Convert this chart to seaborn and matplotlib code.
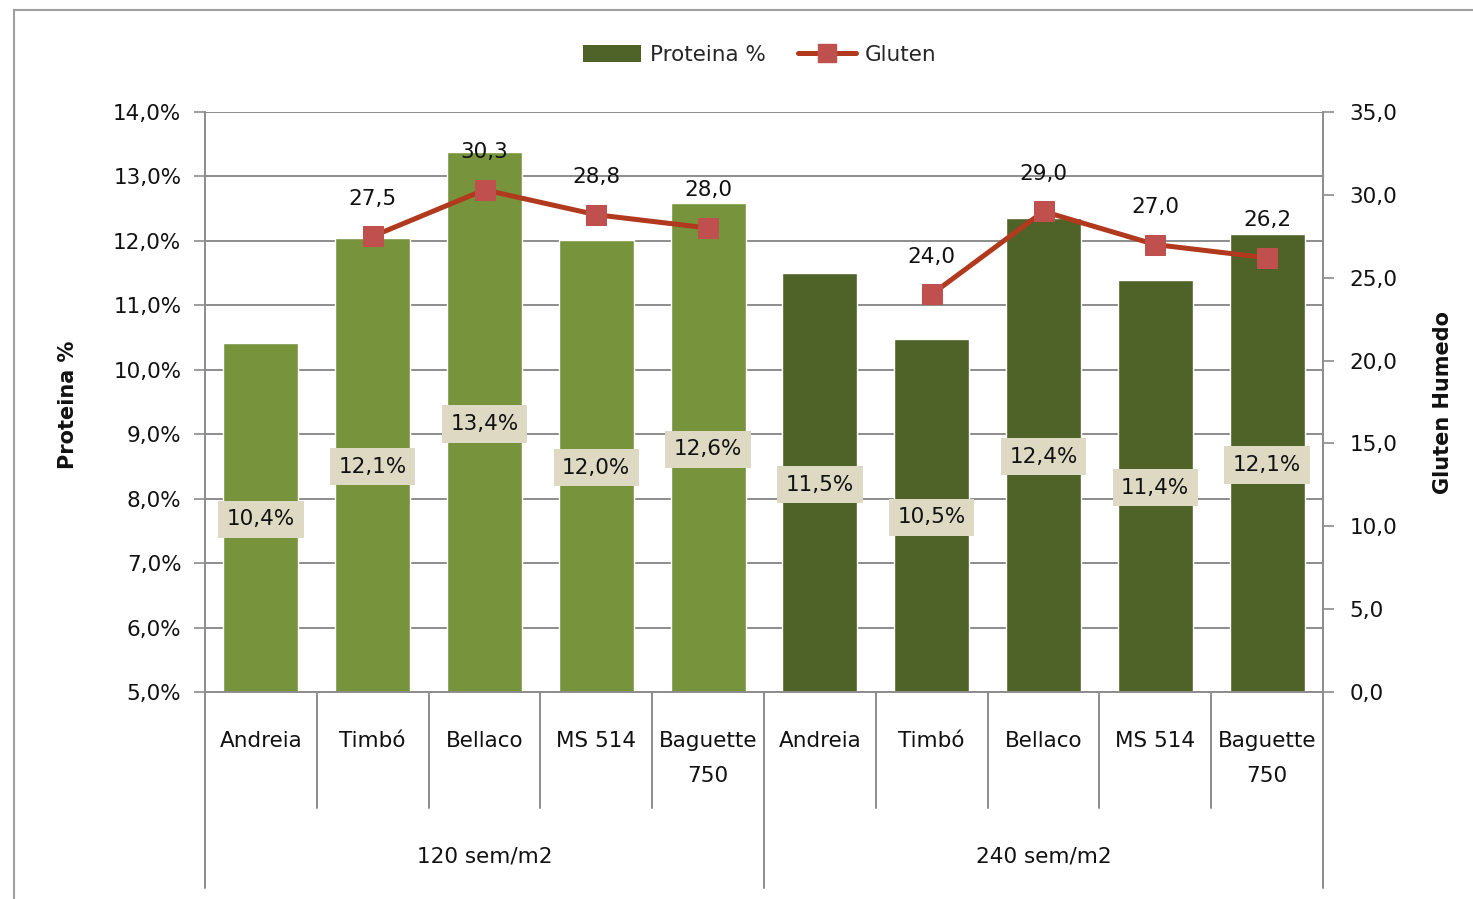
import numpy as np
import pandas as pd
import matplotlib
matplotlib.use("Agg")
import matplotlib.pyplot as plt
import matplotlib.transforms as mtransforms
from matplotlib.patches import Patch, Rectangle
from matplotlib.lines import Line2D
import seaborn as sns

# ---- data ----
varieties = ["Andreia", "Timbó", "Bellaco", "MS 514", "Baguette\n750",
             "Andreia", "Timbó", "Bellaco", "MS 514", "Baguette\n750"]
groups = ["120 sem/m2"] * 5 + ["240 sem/m2"] * 5
group_names = ["120 sem/m2", "240 sem/m2"]
proteina = [10.42, 12.05, 13.38, 12.02, 12.59, 11.5, 10.48, 12.36, 11.4, 12.11]
proteina_labels = ["10,4%", "12,1%", "13,4%", "12,0%", "12,6%",
                   "11,5%", "10,5%", "12,4%", "11,4%", "12,1%"]
gluten = [np.nan, 27.5, 30.3, 28.8, 28.0, np.nan, 24.0, 29.0, 27.0, 26.2]
gluten_labels = ["", "27,5", "30,3", "28,8", "28,0", "", "24,0", "29,0", "27,0", "26,2"]

sns.set_style("white")
plt.rcParams["font.family"] = ["DejaVu Sans"]

bar_colors = {"120 sem/m2": "#77933C", "240 sem/m2": "#4F6228"}
line_color = "#B0391E"
marker_color = "#C0504D"
grid_color = "#8C8C8C"

df = pd.DataFrame({
    "pos": [str(i) for i in range(len(varieties))],
    "idx": list(range(len(varieties))),
    "Variedad": varieties,
    "Grupo": groups,
    "Proteina": proteina,
    "Gluten": gluten,
})

fig = plt.figure(figsize=(14.73, 8.99), dpi=100)
ax = fig.add_axes([205 / 1473, 1 - 692 / 899, (1323 - 205) / 1473, (692 - 112) / 899])

# outer chart border
fig.patches.append(Rectangle((14 / 1473, -0.1), 1.2, (899 - 10) / 899 + 0.1,
                             transform=fig.transFigure, fill=False,
                             edgecolor="#A0A0A0", linewidth=1.5))

sns.barplot(data=df, x="pos", y="Proteina", hue="Grupo", palette=bar_colors,
            dodge=False, width=0.67, ax=ax, legend=False, saturation=1)
ax.set_ylim(5, 14)
ax.set_xlim(-0.5, len(varieties) - 0.5)
ax.set_yticks(np.arange(5, 14.01, 1))
ax.yaxis.set_major_formatter(matplotlib.ticker.FuncFormatter(
    lambda v, p: f"{v:.1f}%".replace(".", ",")))
ax.grid(axis="y", color=grid_color, linewidth=1.4)
ax.set_axisbelow(True)
ax.set_xticks([])
ax.set_xlabel("")
ax.set_ylabel("")
for s in ["top", "right"]:
    ax.spines[s].set_visible(False)
for s in ["left", "bottom"]:
    ax.spines[s].set_color(grid_color)
    ax.spines[s].set_linewidth(1.4)
ax.tick_params(axis="y", direction="out", length=8, width=1.2, color=grid_color,
               labelsize=15.5, pad=9, left=True, labelcolor="#111111")

# bar labels (centered, beige box)
for i, (v, lab) in enumerate(zip(proteina, proteina_labels)):
    ax.text(i, 5 + (v - 5) / 2, lab, ha="center", va="center_baseline", fontsize=15.5,
            color="#111111", zorder=5,
            bbox=dict(boxstyle="square,pad=0.4", facecolor="#DDD9C3", edgecolor="none"))

# secondary axis: gluten
ax2 = ax.twinx()
sns.lineplot(data=df, x="idx", y="Gluten", hue="Grupo",
             palette={g: line_color for g in group_names}, ax=ax2, legend=False,
             linewidth=3.6, marker="s", markersize=15, markerfacecolor=marker_color,
             markeredgecolor=marker_color, zorder=6)
ax2.set_ylim(0, 35)
ax2.set_yticks(np.arange(0, 35.01, 5))
ax2.yaxis.set_major_formatter(matplotlib.ticker.FuncFormatter(
    lambda v, p: f"{v:.1f}".replace(".", ",")))
ax2.set_ylabel("")
ax2.set_xlabel("")
ax2.set_xlim(-0.5, len(varieties) - 0.5)
for s in ["top", "left", "bottom"]:
    ax2.spines[s].set_visible(False)
ax2.spines["right"].set_color(grid_color)
ax2.spines["right"].set_linewidth(1.4)
ax2.tick_params(axis="y", direction="out", length=8, width=1.2, color=grid_color,
                labelsize=15.5, pad=11, right=True, labelcolor="#111111")
ax2.grid(False)

for i, (v, lab) in enumerate(zip(gluten, gluten_labels)):
    if lab:
        ax2.annotate(lab, (i, v), xytext=(0, 27), textcoords="offset points",
                     ha="center", va="center", fontsize=15.5, color="#111111", zorder=7)

# multi-level category axis
trans = mtransforms.blended_transform_factory(ax.transData, ax.transAxes)
h = 580.0
for b in np.arange(0.5, len(varieties) - 0.5, 1):
    if b == 4.5:
        continue
    ax.plot([b, b], [0, -116 / h], transform=trans, color=grid_color, lw=1.4,
            clip_on=False)
for b in [-0.5, 4.5, len(varieties) - 0.5]:
    ax.plot([b, b], [0, -196 / h], transform=trans, color=grid_color, lw=1.4,
            clip_on=False)
for i, lab in enumerate(varieties):
    for k, line in enumerate(lab.split("\n")):
        ax.text(i, -(49 + 35 * k) / h, line, transform=trans, ha="center",
                va="center", fontsize=15.5, color="#111111")
for gi, g in enumerate(group_names):
    ax.text(2 + gi * 5, -164 / h, g, transform=trans, ha="center", va="center",
            fontsize=15.5, color="#111111")

# axis titles
fig.text(68 / 1473, 1 - 405 / 899, "Proteina %", rotation=90, ha="center",
         va="center", fontsize=15, fontweight="bold", color="#111111")
fig.text(1443 / 1473, 1 - 403 / 899, "Gluten Humedo", rotation=90, ha="center",
         va="center", fontsize=15, fontweight="bold", color="#111111")

# legend
handles = [Patch(facecolor="#4F6228", edgecolor="none", label="Proteina %"),
           Line2D([0], [0], color=line_color, lw=3.6, marker="s", markersize=13,
                  markerfacecolor=marker_color, markeredgecolor=marker_color,
                  label="Gluten")]
fig.legend(handles=handles, loc="center", bbox_to_anchor=(760 / 1473, 1 - 55 / 899),
           ncol=2, frameon=False, fontsize=15.5, handlelength=2.7, handleheight=0.8,
           columnspacing=1.5, handletextpad=0.4)

fig.savefig("out.png", dpi=100)
